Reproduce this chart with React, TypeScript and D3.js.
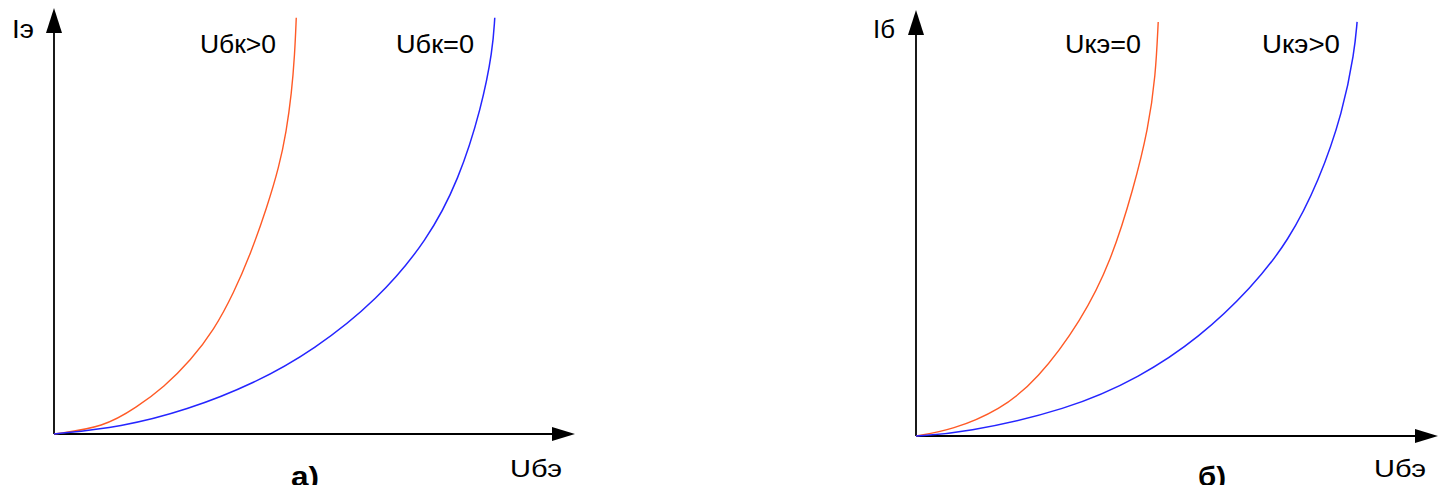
import React from "react";
import * as d3 from "d3";

// curve points in axis units (0..100 on both axes)
const leftOrange: [number, number][] = [
  [0, 0], [9.6, 1.6], [15.9, 6.3], [21.1, 11.0], [26.3, 17.4], [30.7, 24.4],
  [34.5, 33.1], [37.8, 42.5], [40.9, 53.3], [43.2, 62.7], [44.6, 71.0],
  [45.6, 80.0], [46.2, 89.0], [46.5, 97.7], [46.5, 97.7],
];
const leftBlue: [number, number][] = [
  [0, 0], [12.9, 1.6], [25.5, 5.6], [38.4, 11.8], [49.9, 19.7], [62.1, 31.5],
  [71.7, 45.5], [77.7, 59.6], [82.1, 76.8], [84.2, 90.1], [84.6, 97.7], [84.6, 97.7],
];
const rightOrange: [number, number][] = [
  [0, 0], [6.9, 1.4], [16.1, 6.1], [23.2, 13.1], [31.7, 27.1], [37.4, 41.1],
  [41.7, 58.2], [44.5, 72.2], [45.9, 84.5], [46.4, 97.2], [46.4, 97.2],
];
const rightBlue: [number, number][] = [
  [0, 0], [9.0, 0.7], [29.0, 6.1], [43.0, 13.8], [54.3, 23.1], [64.3, 34.8],
  [71.4, 45.8], [77.2, 59.8], [81.8, 76.2], [84.0, 90.2], [84.5, 97.2], [84.5, 97.2],
];

const leftLabels = { y: "Iэ", x: "Uбэ", orange: "Uбк>0", blue: "Uбк=0", caption: "а)" };
const rightLabels = { y: "Iб", x: "Uбэ", orange: "Uкэ=0", blue: "Uкэ>0", caption: "б)" };

const ORANGE = "#ff5a26";
const BLUE = "#2525ff";
const FONT = "'Liberation Sans', Arial, sans-serif";

type Pt = [number, number];

function Panel({ x0, xEnd, y0, yTop, orange, blue, labels, lab }: {
  x0: number; xEnd: number; y0: number; yTop: number;
  orange: Pt[]; blue: Pt[];
  labels: typeof leftLabels;
  lab: { yl: number; orangeX: number; blueX: number; xl: number; cap: number };
}) {
  const x = d3.scaleLinear().domain([0, 100]).range([x0, xEnd]);
  const y = d3.scaleLinear().domain([0, 100]).range([y0, yTop]);
  const line = d3.line<Pt>().x(d => x(d[0])).y(d => y(d[1])).curve(d3.curveBasis);

  const tipY = y(100);
  const tipX = x(100);
  return (
    <g>
      {/* axes */}
      <line x1={x0} y1={y0} x2={x0} y2={tipY + 20} stroke="#000" strokeWidth={1.8} />
      <path d={`M${x0},${tipY} L${x0 - 8},${tipY + 25} L${x0 + 8},${tipY + 25} Z`} fill="#000" />
      <line x1={x0} y1={y0} x2={tipX - 18} y2={y0} stroke="#000" strokeWidth={1.8} />
      <path d={`M${tipX},${y0} L${tipX - 23},${y0 - 7} L${tipX - 23},${y0 + 7} Z`} fill="#000" />

      <path d={line(orange) ?? ""} fill="none" stroke={ORANGE} strokeWidth={1.4} />
      <path d={line(blue) ?? ""} fill="none" stroke={BLUE} strokeWidth={1.5} />

      <text x={lab.yl} y={38} fontSize={26} textLength={22} lengthAdjust="spacingAndGlyphs">{labels.y}</text>
      <text x={lab.orangeX} y={53} fontSize={26} textLength={76} lengthAdjust="spacingAndGlyphs">{labels.orange}</text>
      <text x={lab.blueX} y={53} fontSize={26} textLength={78} lengthAdjust="spacingAndGlyphs">{labels.blue}</text>
      <text x={lab.xl} y={477} fontSize={23} textLength={52} lengthAdjust="spacingAndGlyphs">{labels.x}</text>
      <text x={lab.cap} y={486} fontSize={28} fontWeight="bold" textLength={28} lengthAdjust="spacingAndGlyphs">{labels.caption}</text>
    </g>
  );
}

export default function App() {
  return (
    <svg width={1439} height={485} style={{ position: "absolute", left: 0, top: 0, background: "#fff" }}
      fontFamily={FONT} fill="#000">
      <Panel x0={54} xEnd={575} y0={434} yTop={8} orange={leftOrange} blue={leftBlue} labels={leftLabels}
        lab={{ yl: 12, orangeX: 200, blueX: 396, xl: 510, cap: 291 }} />
      <Panel x0={916} xEnd={1438} y0={436} yTop={10} orange={rightOrange} blue={rightBlue} labels={rightLabels}
        lab={{ yl: 873, orangeX: 1065, blueX: 1262, xl: 1374, cap: 1198 }} />
    </svg>
  );
}
